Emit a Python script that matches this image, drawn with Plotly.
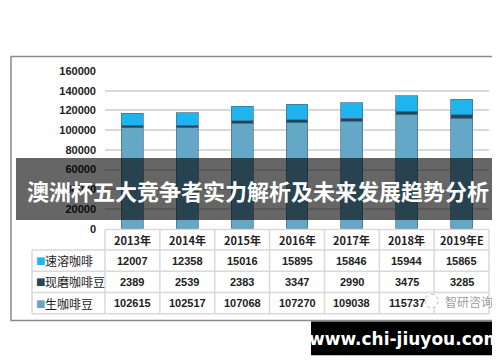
import plotly.graph_objects as go

W, H = 500, 362

years = ["2013年", "2014年", "2015年", "2016年", "2017年", "2018年", "2019年E"]
series_names = ["速溶咖啡", "现磨咖啡豆", "生咖啡豆"]
instant = [12007, 12358, 15016, 15895, 15846, 15944, 15865]
ground = [2389, 2539, 2383, 3347, 2990, 3475, 3285]
green = [102615, 102517, 107068, 107270, 109038, 115737, 112100]
y_ticks = [0, 20000, 40000, 60000, 80000, 100000, 120000, 140000, 160000]

colors = {"速溶咖啡": "#1fb4ee", "现磨咖啡豆": "#1f4a5e", "生咖啡豆": "#64a7c6"}
title_text = "澳洲杯五大竞争者实力解析及未来发展趋势分析"
watermark = "www.chi-jiuyou.com"
logo_text = "智研咨询"


def px(x):
    return x / W


def py(y):
    return 1 - y / H


fig = go.Figure()

for name, vals in [("生咖啡豆", green), ("现磨咖啡豆", ground), ("速溶咖啡", instant)]:
    fig.add_trace(go.Bar(
        x=years, y=vals, name=name, width=0.4,
        marker=dict(color=colors[name], line=dict(color="rgba(70,110,135,0.7)", width=1)),
        showlegend=False,
    ))

PLOT_L, PLOT_R = 97, 481
fig.update_layout(
    width=W, height=H,
    margin=dict(l=0, r=0, t=0, b=0),
    paper_bgcolor="white", plot_bgcolor="white",
    barmode="stack", bargap=0.6,
    xaxis=dict(domain=[px(PLOT_L), px(PLOT_R)], showticklabels=False, showgrid=False,
               zeroline=False, ticks="", fixedrange=True),
    yaxis=dict(domain=[py(222), py(59)], range=[0, 160000], tickvals=y_ticks,
               ticktext=[f"<b>{v}</b>" for v in y_ticks],
               showgrid=True, gridcolor="#d9d9d9", gridwidth=1.5, zeroline=False,
               ticks="", ticklabelstandoff=8,
               tickfont=dict(family="Liberation Sans, Arial", size=11, color="#222")),
    font=dict(family="Noto Sans CJK SC, Liberation Sans"),
)

# ---- data table (drawn with shapes + annotations) ----
TAB_L = 24
n = len(years)
colw = (PLOT_R - PLOT_L) / n
row_edges = [223, 244, 266, 288, 310]
grid = dict(color="#d9d9d9", width=1.5)
shapes = []
shapes.append(dict(type="line", xref="paper", yref="paper", x0=px(PLOT_L), x1=px(PLOT_R),
                   y0=py(row_edges[0]), y1=py(row_edges[0]), line=grid))
for ye in row_edges[1:]:
    shapes.append(dict(type="line", xref="paper", yref="paper", x0=px(TAB_L), x1=px(PLOT_R),
                       y0=py(ye), y1=py(ye), line=grid))
shapes.append(dict(type="line", xref="paper", yref="paper", x0=px(TAB_L), x1=px(TAB_L),
                   y0=py(row_edges[1]), y1=py(row_edges[-1]), line=grid))
for k in range(n + 1):
    xv = PLOT_L + k * colw
    shapes.append(dict(type="line", xref="paper", yref="paper", x0=px(xv), x1=px(xv),
                       y0=py(row_edges[0]), y1=py(row_edges[-1]), line=grid))

cell_font = dict(family="Liberation Sans, Noto Sans CJK SC", size=11, color="#222")
for k, yr in enumerate(years):
    cx = PLOT_L + (k + 0.5) * colw
    fig.add_annotation(text=f"<b>{yr}</b>", xref="paper", yref="paper", x=px(cx),
                       y=py((row_edges[0] + row_edges[1]) / 2), xanchor="center",
                       yanchor="middle", showarrow=False,
                       font=dict(family="Noto Sans CJK SC", size=11, color="#222"))
    for r, vals in enumerate([instant, ground, green]):
        if r == 2 and k == n - 1:
            continue  # this cell is hidden under the source logo in the original
        fig.add_annotation(text=f"<b>{vals[k]}</b>", xref="paper", yref="paper", x=px(cx),
                           y=py((row_edges[r + 1] + row_edges[r + 2]) / 2), xanchor="center",
                           yanchor="middle", showarrow=False, font=cell_font)

for r, name in enumerate(series_names):
    yy = (row_edges[r + 1] + row_edges[r + 2]) / 2
    fig.add_annotation(text="■", xref="paper", yref="paper", x=px(26), y=py(yy),
                       xanchor="left", yanchor="middle", showarrow=False,
                       font=dict(family="DejaVu Sans", size=10, color=colors[name]))
    fig.add_annotation(text=name, xref="paper", yref="paper", x=px(35), y=py(yy),
                       xanchor="left", yanchor="middle", showarrow=False,
                       font=dict(family="Noto Sans CJK SC", size=12, color="#222"))

shapes += [
    # faint logo circle of the source watermark
    dict(type="circle", xref="paper", yref="paper", x0=px(417), x1=px(430), y0=py(304), y1=py(290),
         line=dict(color="rgba(170,170,170,0.8)", width=1, dash="dot"), fillcolor="white",
         layer="above"),
    # outer chart frame
    dict(type="rect", xref="paper", yref="paper", x0=px(3), x1=px(495), y0=py(317), y1=py(44),
         line=dict(color="#8a8a8a", width=1.5), fillcolor="rgba(0,0,0,0)", layer="above"),
    # title banner
    dict(type="rect", xref="paper", yref="paper", x0=px(8), x1=px(492), y0=py(213), y1=py(149),
         line=dict(width=0), fillcolor="rgba(0,0,0,0.6)", layer="above"),
    # watermark box
    dict(type="rect", xref="paper", yref="paper", x0=px(303), x1=px(491), y0=py(353), y1=py(318),
         line=dict(width=0), fillcolor="black", layer="above"),
]
fig.update_layout(shapes=shapes)

fig.add_annotation(text=f"<b>{title_text}</b>", xref="paper", yref="paper",
                   x=px(250), y=py(182), xanchor="center", yanchor="middle", showarrow=False,
                   font=dict(family="Noto Sans CJK SC", size=22, color="white"))
fig.add_annotation(text=f"<b>{watermark}</b>", xref="paper", yref="paper",
                   x=px(397), y=py(336), xanchor="center", yanchor="middle", showarrow=False,
                   font=dict(family="DejaVu Sans, Liberation Sans", size=17, color="white"))
fig.add_annotation(text=logo_text, xref="paper", yref="paper",
                   x=px(461), y=py(297), xanchor="center", yanchor="middle", showarrow=False,
                   font=dict(family="Noto Sans CJK SC", size=12, color="rgba(130,130,130,0.8)"))

fig.write_html("out.html")
